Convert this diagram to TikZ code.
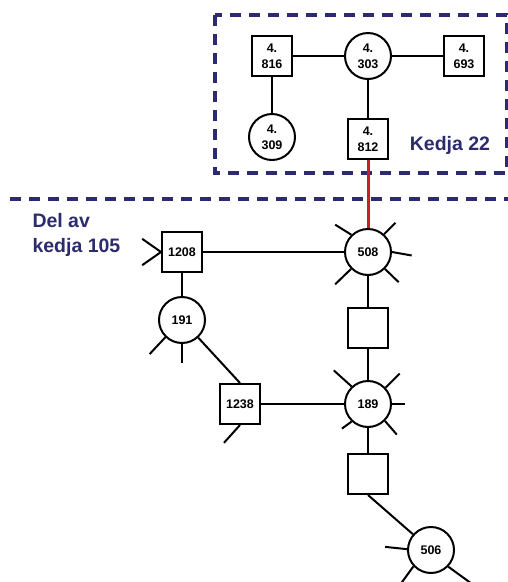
\documentclass[tikz,border=0pt]{standalone}
\usepackage{fontspec}
\setmainfont{Liberation Sans}
\definecolor{chainblue}{RGB}{43,43,110}
\definecolor{linkred}{RGB}{200,32,42}

\begin{document}
\begin{tikzpicture}[x=1pt,y=-1pt,line width=2pt,
    station/.style={draw,circle,minimum size=46pt,inner sep=0pt,align=center,
                    font=\bfseries\fontsize{12.5}{16}\selectfont},
    unit/.style={draw,rectangle,minimum size=40pt,inner sep=0pt,align=center,
                 font=\bfseries\fontsize{12.5}{16}\selectfont},
    chain/.style={chainblue,line width=4pt,dash pattern=on 11pt off 8pt},
    chainlabel/.style={chainblue,inner sep=0pt,align=left,
                       font=\bfseries\fontsize{19.5}{25}\selectfont}]
    \useasboundingbox (0,0) rectangle (508,582);

    % Kedja 22
    \draw[chain] (215,15) rectangle (507,173);
    \node[unit] (u816) at (272,56) {4.\\816};
    \node[station] (s303) at (368,56) {4.\\303};
    \node[unit] (u693) at (464,56) {4.\\693};
    \node[station] (s309) at (272,137) {4.\\309};
    \node[unit] (u812) at (368,139) {4.\\812};
    \node[chainlabel,anchor=base] (kedja22) at (450,150) {Kedja 22};
    \draw (u816) -- (s303) -- (u693);
    \draw (u816) -- (s309);
    \draw (s303) -- (u812);

    % border line
    \draw[chain] (10,199) -- (512,199);
    \node[chainlabel,anchor=north west] (kedja105) at (31.5,212) {Del av\\kedja 105};

    % Del av kedja 105
    \node[station] (s508) at (368,252) {508};
    \node[unit] (u1208) at (182,252) {1208};
    \node[station] (s191) at (182,320) {191};
    \node[unit] (ua) at (368,328) {};
    \node[unit] (u1238) at (240,404) {1238};
    \node[station] (s189) at (368,404) {189};
    \node[unit] (ub) at (368,474) {};
    \node[station] (s506) at (431,550) {506};

    \draw[linkred,line width=3pt] (u812) -- (s508);
    \draw (u1208) -- (s508);
    \draw (u1208) -- (s191);
    \draw (s191) -- (u1238.north);
    \draw (u1238) -- (s189);
    \draw (s508) -- (ua) -- (s189) -- (ub);
    \draw (ub.south) -- (s506);

    % free ends (y runs downwards, so directions are mirrored)
    \foreach \a/\d/\l in {134/-148/19, 48/-45/16, 0/10/20, 225/136/22, -45/44/19}
        \draw (s508.\a) -- ++(\d:\l);
    \foreach \a/\d/\l in {133/-138/24, 43/-45/20, 0/0/13, 227/144/12, -45/49/18}
        \draw (s189.\a) -- ++(\d:\l);
    \foreach \a/\d/\l in {178/-174/22, 223/126/24, -44/36/28}
        \draw (s506.\a) -- ++(\d:\l);
    \foreach \a/\d/\l in {226/133/23, -90/90/19}
        \draw (s191.\a) -- ++(\d:\l);
    \foreach \d in {145,215}
        \draw (u1208.west) -- ++(\d:23);
    \draw (u1238.south) -- ++(132:24);
\end{tikzpicture}
\end{document}
